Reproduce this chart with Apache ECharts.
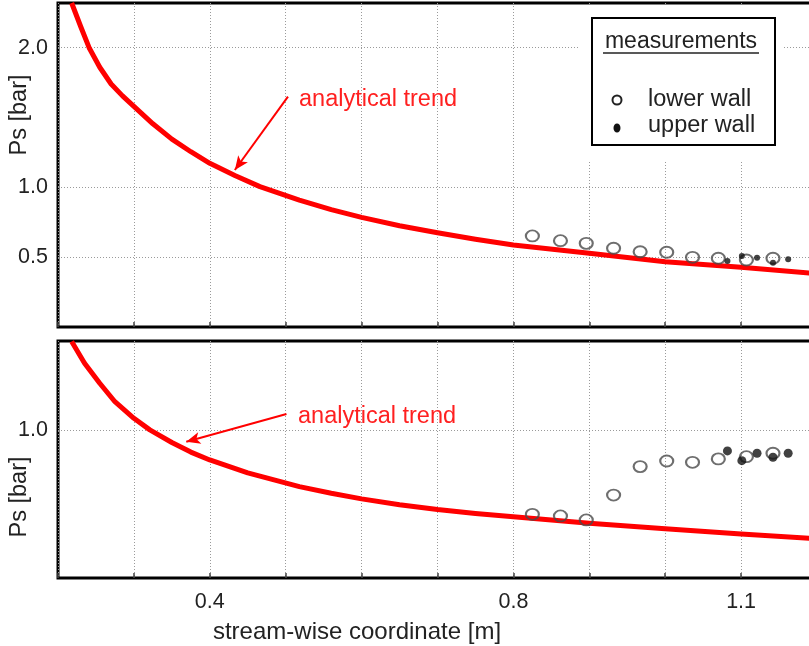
<!DOCTYPE html>
<html>
<head>
<meta charset="utf-8">
<script src="https://cdn.jsdelivr.net/npm/echarts@6/dist/echarts.min.js"></script>
<style>
html,body{margin:0;padding:0;background:#fff;}
#chart{width:809px;height:646px;}
</style>
</head>
<body>
<div id="chart"></div>
<script>
// ---- data ----
const xLabelValues = [0.4, 0.8, 1.1];
const topYTicks = [0.5, 1.0, 2.0];
const bottomYTicks = [1.0];

// analytical trend, top panel
const trendTopX = [0.218, 0.23, 0.241, 0.255, 0.27, 0.285, 0.3, 0.325, 0.35, 0.375, 0.4, 0.433, 0.466, 0.518, 0.56, 0.6, 0.65, 0.7, 0.75, 0.8, 0.9, 1.0, 1.1, 1.2];
const trendTopY = [2.32, 2.15, 2.00, 1.86, 1.74, 1.655, 1.58, 1.455, 1.345, 1.255, 1.172, 1.085, 1.005, 0.909, 0.84, 0.785, 0.725, 0.675, 0.628, 0.587, 0.528, 0.468, 0.427, 0.381];
// analytical trend, bottom panel
const trendBotX = [0.218, 0.235, 0.255, 0.275, 0.3, 0.321, 0.35, 0.375, 0.4, 0.45, 0.518, 0.56, 0.6, 0.65, 0.7, 0.75, 0.8, 0.9, 1.0, 1.1, 1.2];
const trendBotY = [1.596, 1.45, 1.315, 1.19, 1.078, 1.0, 0.915, 0.85, 0.797, 0.71, 0.617, 0.572, 0.534, 0.495, 0.462, 0.436, 0.413, 0.37, 0.332, 0.297, 0.265];

// measurements
const lowerX = [0.825, 0.862, 0.896, 0.932, 0.967, 1.002, 1.036, 1.070, 1.107, 1.142];
const lowerTopY = [0.652, 0.618, 0.599, 0.564, 0.539, 0.535, 0.499, 0.492, 0.480, 0.492];
const lowerBotY = [0.430, 0.419, 0.392, 0.560, 0.752, 0.790, 0.781, 0.804, 0.819, 0.842];
const upperX = [1.082, 1.101, 1.121, 1.142, 1.162];
const upperTopY = [0.473, 0.508, 0.496, 0.460, 0.485];
const upperBotY = [0.858, 0.792, 0.842, 0.815, 0.842];

const zip = (xs, ys) => xs.map((x, i) => [x, ys[i]]);
const FONT = 'Liberation Sans, Arial, Helvetica, sans-serif';
const RED = '#ff0000';
const gridLine = { show: true, lineStyle: { color: '#9a9a9a', width: 1, type: [1, 2] } };

function xAxisCfg(gridIndex, showLabels) {
  return {
    type: 'value', gridIndex: gridIndex, min: 0.2, max: 1.2, interval: 0.1,
    axisLine: { show: false },
    axisTick: { show: true, inside: true, length: 5, lineStyle: { color: '#444', width: 1.5 } },
    axisLabel: {
      show: showLabels, margin: 13, fontSize: 21.5, color: '#222', fontFamily: FONT,
      formatter: v => xLabelValues.some(t => Math.abs(v - t) < 1e-6) ? v.toFixed(1) : ''
    },
    splitLine: gridLine
  };
}
function yAxisCfg(gridIndex, max, ticks) {
  return {
    type: 'value', gridIndex: gridIndex, min: 0, max: max,
    axisLine: { show: false },
    axisTick: { show: false, customValues: ticks },
    axisLabel: { customValues: ticks, margin: 10, fontSize: 21.5, color: '#222', fontFamily: FONT,
      formatter: v => v.toFixed(1) },
    splitLine: gridLine
  };
}

const chart = echarts.init(document.getElementById('chart'), null, { renderer: 'canvas' });
chart.setOption({
  animation: false,
  backgroundColor: '#fff',
  textStyle: { fontFamily: FONT },
  grid: [
    { left: 58, top: 3, width: 759, height: 324, outerBoundsMode: 'none', containLabel: false, show: true, borderColor: '#000', borderWidth: 3, backgroundColor: 'transparent' },
    { left: 58, top: 341, width: 759, height: 237, outerBoundsMode: 'none', containLabel: false, show: true, borderColor: '#000', borderWidth: 3, backgroundColor: 'transparent' }
  ],
  xAxis: [xAxisCfg(0, false), xAxisCfg(1, true)],
  yAxis: [yAxisCfg(0, 2.32, topYTicks), yAxisCfg(1, 1.6, bottomYTicks)],
  series: [
    {
      name: 'analytical trend', type: 'line', xAxisIndex: 0, yAxisIndex: 0,
      data: zip(trendTopX, trendTopY), smooth: false, showSymbol: false,
      lineStyle: { color: RED, width: 5, join: 'round' }, z: 3,
      markLine: {
        silent: true, symbol: ['none', 'arrow'], symbolSize: [9, 14],
        label: { show: false }, lineStyle: { color: RED, width: 2, type: 'solid' },
        data: [[{ coord: [0.503, 1.649] }, { coord: [0.433, 1.124] }]]
      }
    },
    {
      name: 'analytical trend', type: 'line', xAxisIndex: 1, yAxisIndex: 1,
      data: zip(trendBotX, trendBotY), smooth: false, showSymbol: false,
      lineStyle: { color: RED, width: 5, join: 'round' }, z: 3,
      markLine: {
        silent: true, symbol: ['none', 'arrow'], symbolSize: [9, 14],
        label: { show: false }, lineStyle: { color: RED, width: 2, type: 'solid' },
        data: [[{ coord: [0.501, 1.107] }, { coord: [0.369, 0.920] }]]
      }
    },
    {
      name: 'lower wall', type: 'scatter', xAxisIndex: 0, yAxisIndex: 0,
      data: zip(lowerX, lowerTopY), symbol: 'circle', symbolSize: [13, 11],
      itemStyle: { color: 'rgba(255,255,255,0)', borderColor: '#4a4a4a', borderWidth: 2 }, z: 4
    },
    {
      name: 'upper wall', type: 'scatter', xAxisIndex: 0, yAxisIndex: 0,
      data: zip(upperX, upperTopY), symbol: 'circle', symbolSize: 6,
      itemStyle: { color: '#111' }, z: 5
    },
    {
      name: 'lower wall', type: 'scatter', xAxisIndex: 1, yAxisIndex: 1,
      data: zip(lowerX, lowerBotY), symbol: 'circle', symbolSize: [13, 11],
      itemStyle: { color: 'rgba(255,255,255,0)', borderColor: '#4a4a4a', borderWidth: 2 }, z: 4
    },
    {
      name: 'upper wall', type: 'scatter', xAxisIndex: 1, yAxisIndex: 1,
      data: zip(upperX, upperBotY), symbol: 'circle', symbolSize: 9,
      itemStyle: { color: '#111' }, z: 5
    }
  ],
  graphic: [
    // legend panel
    { type: 'rect', z: 100, shape: { x: 578, y: 5, width: 205, height: 155 }, style: { fill: '#fff' } },
    { type: 'rect', z: 101, shape: { x: 592, y: 18, width: 183, height: 127 }, style: { fill: '#fff', stroke: '#000', lineWidth: 2 } },
    { type: 'text', z: 102, x: 681, y: 42, style: { text: 'measurements', font: '23px ' + FONT, fill: '#222', align: 'center', verticalAlign: 'middle' } },
    { type: 'line', z: 102, shape: { x1: 603, y1: 53, x2: 759, y2: 53 }, style: { stroke: '#222', lineWidth: 1.5 } },
    { type: 'circle', z: 102, shape: { cx: 617, cy: 100, r: 4.5 }, style: { fill: 'none', stroke: '#222', lineWidth: 2 } },
    { type: 'ellipse', z: 102, shape: { cx: 617, cy: 128, rx: 3.5, ry: 4.5 }, style: { fill: '#111' } },
    { type: 'text', z: 102, x: 648, y: 100, style: { text: 'lower wall', font: '23.5px ' + FONT, fill: '#222', align: 'left', verticalAlign: 'middle' } },
    { type: 'text', z: 102, x: 648, y: 126, style: { text: 'upper wall', font: '23.5px ' + FONT, fill: '#222', align: 'left', verticalAlign: 'middle' } },
    // annotations
    { type: 'text', z: 50, x: 299, y: 100, style: { text: 'analytical trend', font: '23.5px ' + FONT, fill: '#ff2020', align: 'left', verticalAlign: 'middle' } },
    { type: 'text', z: 50, x: 298, y: 417, style: { text: 'analytical trend', font: '23.5px ' + FONT, fill: '#ff2020', align: 'left', verticalAlign: 'middle' } },
    // axis titles
    { type: 'text', z: 50, x: 20, y: 115, rotation: Math.PI / 2, style: { text: 'Ps [bar]', font: '23.5px ' + FONT, fill: '#222', align: 'center', verticalAlign: 'middle' } },
    { type: 'text', z: 50, x: 20, y: 497, rotation: Math.PI / 2, style: { text: 'Ps [bar]', font: '23.5px ' + FONT, fill: '#222', align: 'center', verticalAlign: 'middle' } },
    { type: 'text', z: 50, x: 357, y: 632, style: { text: 'stream-wise coordinate [m]', font: '24px ' + FONT, fill: '#222', align: 'center', verticalAlign: 'middle' } }
  ]
});
</script>
</body>
</html>
